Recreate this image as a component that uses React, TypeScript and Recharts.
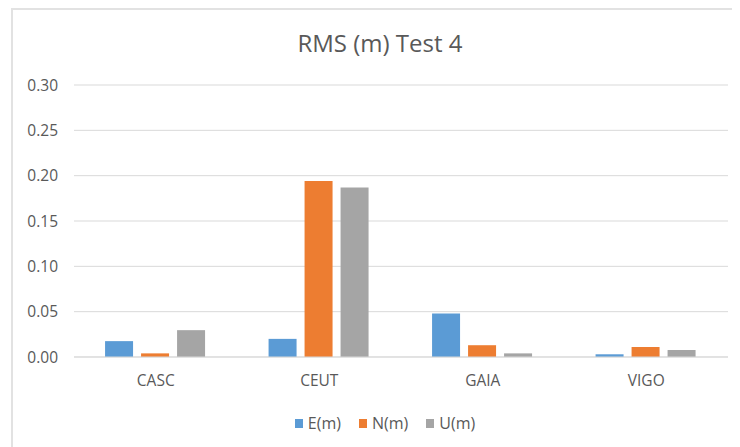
import React from 'react';
import { BarChart, Bar, XAxis, YAxis, CartesianGrid } from 'recharts';

const categories = ['CASC', 'CEUT', 'GAIA', 'VIGO'];
const eValues = [0.0175, 0.02, 0.048, 0.003];
const nValues = [0.004, 0.194, 0.013, 0.011];
const uValues = [0.0296, 0.187, 0.004, 0.0077];
const yTicks = [0, 0.05, 0.1, 0.15, 0.2, 0.25, 0.3];
const seriesKeys = ['E', 'N', 'U'];
const seriesNames = ['E(m)', 'N(m)', 'U(m)'];
const seriesColors = ['#5B9BD5', '#ED7D31', '#A5A5A5'];

const data = categories.map((c, i) => ({
  name: c,
  E: eValues[i],
  N: nValues[i],
  U: uValues[i],
}));

const FONT = '"Open Sans", "Liberation Sans", sans-serif';
const TEXT = '#595959';

export default function App() {
  return (
    <div style={{ position: 'relative', left: -8, top: -8, width: 740, height: 447, background: '#fff', overflow: 'hidden' }}>
      <div style={{ position: 'absolute', left: 11, top: 8, width: 800, height: 500, borderTop: '2px solid #e2e2e2', borderLeft: '2px solid #e2e2e2' }} />
      <div style={{ position: 'absolute', left: 0, top: 31, width: 760, textAlign: 'center', fontFamily: FONT, fontSize: 24, lineHeight: 1, color: TEXT }}>
        RMS (m) Test 4
      </div>
      <div style={{ position: 'absolute', left: 0, top: 0 }}>
        <BarChart width={740} height={447} data={data} margin={{ top: 85, right: 12, left: 0, bottom: 60 }} barCategoryGap="19%" barGap={8}>
          <CartesianGrid vertical={false} stroke="#d9d9d9" />
          <XAxis dataKey="name" axisLine={{ stroke: '#d9d9d9' }} tickLine={false} tickSize={0} tickMargin={18} height={30} tick={{ fill: TEXT, fontSize: 15.5, fontFamily: FONT }} />
          <YAxis width={74} domain={[0, 0.3]} ticks={yTicks} tickFormatter={(v: number) => v.toFixed(2)} axisLine={false} tickLine={false} tickSize={0} tickMargin={16} tick={{ fill: TEXT, fontSize: 15.5, fontFamily: FONT }} />
          {seriesKeys.map((k, i) => (
            <Bar key={k} dataKey={k} name={seriesNames[i]} fill={seriesColors[i]} isAnimationActive={false} />
          ))}
        </BarChart>
      </div>
      <div style={{ position: 'absolute', left: 0, top: 412, width: 770, display: 'flex', justifyContent: 'center', fontFamily: FONT, fontSize: 16, lineHeight: '22px', color: TEXT }}>
        {seriesNames.map((n, i) => (
          <div key={n} style={{ display: 'flex', alignItems: 'center', margin: '0 9px' }}>
            <span style={{ width: 8, height: 9, background: seriesColors[i], display: 'inline-block', marginRight: 5 }} />
            <span>{n}</span>
          </div>
        ))}
      </div>
    </div>
  );
}
